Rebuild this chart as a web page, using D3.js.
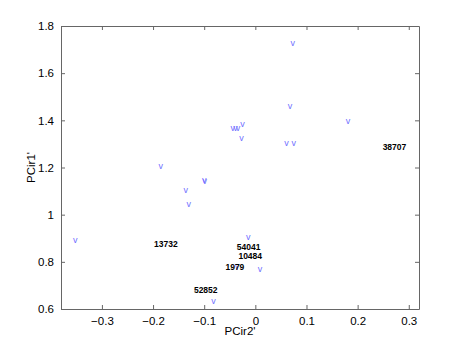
<!DOCTYPE html>
<html lang="en">
<head>
    <meta charset="UTF-8">
    <title>PCir scatter</title>
    <script src="https://d3js.org/d3.v7.min.js"></script>
    <style>
        body {
            margin: 0;
            background-color: #fff;
            font-family: "Liberation Sans", Arial, sans-serif;
        }
    </style>
</head>
<body>
    <div id="chart"></div>

    <script>
        // marker positions ("v" glyphs)
        const pcX = [0.073, 0.068, 0.181, -0.044, -0.039, -0.034, -0.025, -0.027, 0.061, 0.075,
                     -0.185, -0.100, -0.099, -0.136, -0.130, -0.352, -0.014, 0.009, -0.082, -0.036];
        const pcY = [1.727, 1.459, 1.397, 1.366, 1.366, 1.366, 1.384, 1.325, 1.301, 1.302,
                     1.203, 1.146, 1.143, 1.103, 1.042, 0.892, 0.902, 0.768, 0.632, 0.779];

        // labelled points
        const labelNames = ["38707", "13732", "54041", "10484", "1979", "52852"];
        const labelX = [0.272, -0.175, -0.013, -0.010, -0.040, -0.097];
        const labelY = [1.286, 0.875, 0.861, 0.825, 0.778, 0.682];

        const xTicks = [-0.3, -0.2, -0.1, 0, 0.1, 0.2, 0.3];
        const yTicks = [0.6, 0.8, 1, 1.2, 1.4, 1.6, 1.8];

        const width = 463, height = 348;
        const margin = {left: 61, right: 44, top: 26, bottom: 39};

        const svg = d3.select("#chart")
            .append("svg")
            .attr("width", width)
            .attr("height", height);

        const x = d3.scaleLinear()
            .domain([-0.38, 0.32])
            .range([margin.left, width - margin.right]);

        const y = d3.scaleLinear()
            .domain([0.6, 1.8])
            .range([height - margin.bottom, margin.top]);

        const fmt = d => (d < 0 ? "\u2212" : "") + Math.abs(d);
        const tickLen = 4;
        const axisColor = "#666";

        // axes (MATLAB style box, ticks inside)
        const axBottom = svg.append("g")
            .attr("transform", `translate(0,${y.range()[0]})`)
            .call(d3.axisBottom(x).tickValues(xTicks).tickFormat(fmt).tickSizeInner(-tickLen).tickSizeOuter(0).tickPadding(8));
        const axTop = svg.append("g")
            .attr("transform", `translate(0,${y.range()[1]})`)
            .call(d3.axisTop(x).tickValues(xTicks).tickFormat("").tickSizeInner(-tickLen).tickSizeOuter(0));
        const axLeft = svg.append("g")
            .attr("transform", `translate(${x.range()[0]},0)`)
            .call(d3.axisLeft(y).tickValues(yTicks).tickFormat(fmt).tickSizeInner(-tickLen).tickSizeOuter(0).tickPadding(7));
        const axRight = svg.append("g")
            .attr("transform", `translate(${x.range()[1]},0)`)
            .call(d3.axisRight(y).tickValues(yTicks).tickFormat("").tickSizeInner(-tickLen).tickSizeOuter(0));

        [axBottom, axTop, axLeft, axRight].forEach(g => {
            g.selectAll("path, line").attr("stroke", axisColor);
            g.selectAll("text")
                .attr("fill", "#000")
                .style("font-family", "Liberation Sans, Arial, sans-serif")
                .style("font-size", "11.5px");
        });

        // axis titles
        svg.append("text")
            .attr("x", (x.range()[0] + x.range()[1]) / 2)
            .attr("y", 335)
            .attr("text-anchor", "middle")
            .style("font-size", "11.5px")
            .text("PCir2'");

        svg.append("text")
            .attr("transform", `translate(35,${(y.range()[0] + y.range()[1]) / 2}) rotate(-90)`)
            .attr("text-anchor", "middle")
            .style("font-size", "11.5px")
            .text("PCir1'");

        // markers
        svg.append("g")
            .selectAll("text")
            .data(pcX.map((d, i) => ({x: d, y: pcY[i]})))
            .join("text")
            .attr("x", d => x(d.x))
            .attr("y", d => y(d.y))
            .attr("dy", "0.3em")
            .attr("text-anchor", "middle")
            .attr("fill", "#7070ff")
            .style("font-size", "9px")
            .text("v");

        // labels
        svg.append("g")
            .selectAll("text")
            .data(labelNames.map((d, i) => ({name: d, x: labelX[i], y: labelY[i]})))
            .join("text")
            .attr("x", d => x(d.x))
            .attr("y", d => y(d.y))
            .attr("dy", "0.35em")
            .attr("text-anchor", "middle")
            .attr("fill", "#000")
            .style("font-size", "8.5px")
            .style("font-weight", "bold")
            .text(d => d.name);
    </script>
</body>
</html>
